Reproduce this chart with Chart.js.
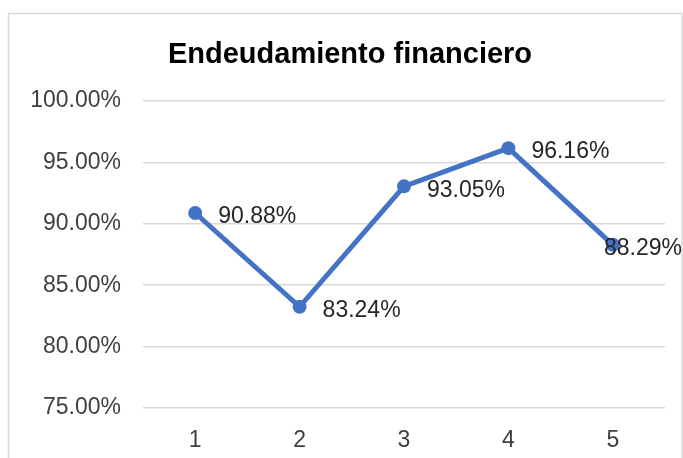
<!DOCTYPE html>
<html>
<head>
<meta charset="utf-8">
<script src="https://cdn.jsdelivr.net/npm/chart.js@4/dist/chart.umd.min.js"></script>
<style>
  html, body { margin: 0; padding: 0; background: #ffffff; }
  #wrap { width: 683px; height: 458px; position: relative; }
</style>
</head>
<body>
<div id="wrap"><canvas id="c" width="683" height="458"></canvas></div>
<script>
const titleText = 'Endeudamiento financiero';
const categories = ['1', '2', '3', '4', '5'];
const seriesValues = [90.88, 83.24, 93.05, 96.16, 88.29];
const yTickValues = [75, 80, 85, 90, 95, 100];

const FONT = "'Liberation Sans', Arial, sans-serif";

const decorPlugin = {
  id: 'decor',
  beforeDraw(chart) {
    const ctx = chart.ctx;
    ctx.save();
    ctx.fillStyle = '#ffffff';
    ctx.fillRect(0, 0, chart.width, chart.height);
    ctx.strokeStyle = '#d9d9d9';
    ctx.lineWidth = 1.5;
    ctx.beginPath();
    ctx.moveTo(8.5, chart.height + 5);
    ctx.lineTo(8.5, 13.5);
    ctx.lineTo(682, 13.5);
    ctx.lineTo(682, chart.height + 5);
    ctx.stroke();
    ctx.fillStyle = '#000000';
    ctx.font = "bold 29px " + FONT;
    ctx.textAlign = 'center';
    ctx.textBaseline = 'middle';
    ctx.fillText(titleText, 350, 55);
    ctx.restore();
  },
  afterDatasetsDraw(chart) {
    const ctx = chart.ctx;
    const meta = chart.getDatasetMeta(0);
    ctx.save();
    ctx.font = "23px " + FONT;
    ctx.fillStyle = '#262626';
    ctx.textAlign = 'left';
    ctx.textBaseline = 'middle';
    meta.data.forEach((pt, i) => {
      const txt = seriesValues[i].toFixed(2) + '%';
      const w = ctx.measureText(txt).width;
      let x = pt.x + 23;
      if (x + w > chart.width - 1) x = chart.width - 1 - w;
      ctx.fillText(txt, x, pt.y + 4);
    });
    ctx.restore();
  }
};

new Chart(document.getElementById('c'), {
  type: 'line',
  data: {
    labels: categories,
    datasets: [{
      data: seriesValues,
      borderColor: '#4472C4',
      backgroundColor: '#4472C4',
      borderWidth: 5,
      pointRadius: 7,
      pointHoverRadius: 7,
      pointBackgroundColor: '#4472C4',
      pointBorderColor: '#4472C4',
      pointBorderWidth: 0,
      tension: 0,
      fill: false
    }]
  },
  options: {
    responsive: false,
    animation: false,
    devicePixelRatio: 1,
    layout: { padding: { top: 101, right: 18, bottom: 0, left: 0 } },
    plugins: {
      legend: { display: false },
      title: { display: false },
      tooltip: { enabled: false }
    },
    scales: {
      x: {
        type: 'category',
        offset: true,
        grid: { display: false, drawTicks: false },
        border: { display: false },
        ticks: { color: '#404040', font: { family: FONT, size: 23 }, padding: 19 },
        afterFit(scale) { scale.height = 50; }
      },
      y: {
        min: 75,
        max: 100,
        afterBuildTicks(scale) { scale.ticks = yTickValues.map(v => ({ value: v })); },
        grid: { color: '#d9d9d9', lineWidth: 1.5, drawTicks: false },
        border: { display: false },
        ticks: {
          color: '#404040',
          font: { family: FONT, size: 23 },
          padding: 22,
          callback: v => Number(v).toFixed(2) + '%'
        },
        afterFit(scale) { scale.width = 143; }
      }
    }
  },
  plugins: [decorPlugin]
});
</script>
</body>
</html>
